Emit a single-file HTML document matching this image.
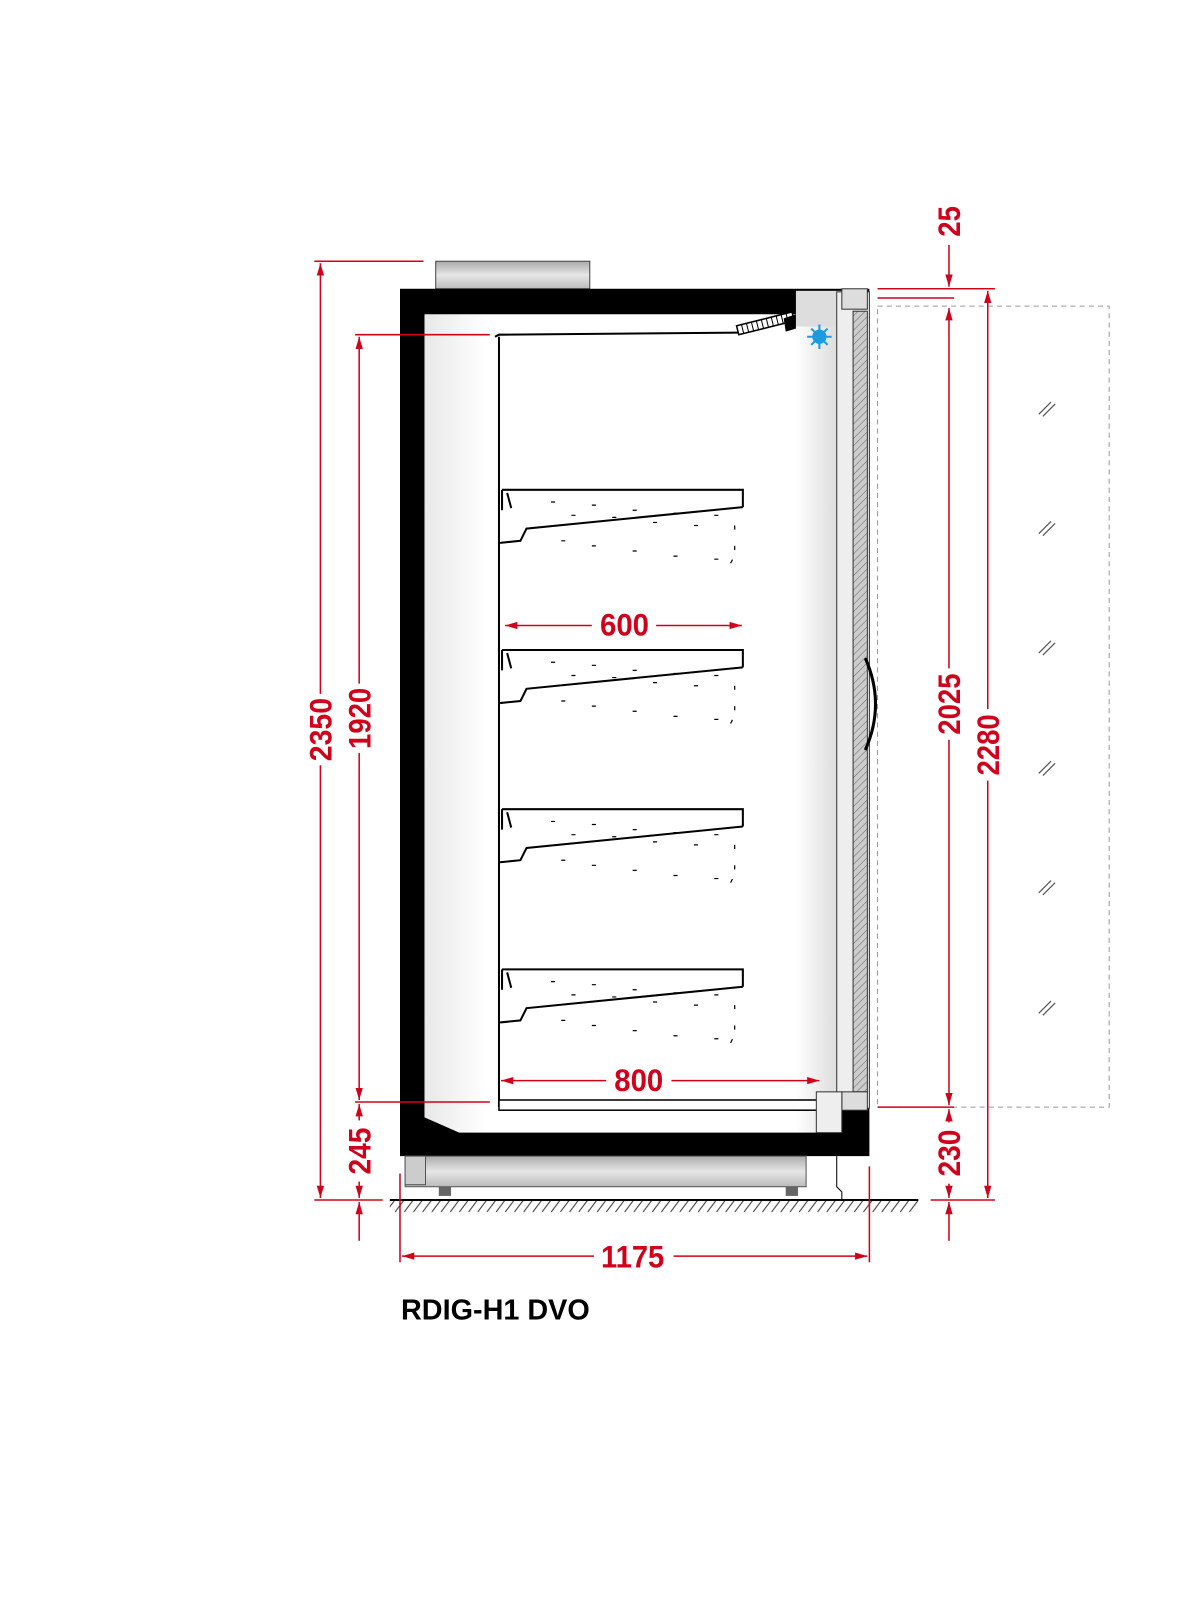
<!DOCTYPE html>
<html><head><meta charset="utf-8"><style>html,body{margin:0;padding:0;background:#fff}svg{display:block}</style></head>
<body>
<svg width="1200" height="1600" viewBox="0 0 1176 1568" xmlns="http://www.w3.org/2000/svg" font-family="Liberation Sans, sans-serif">
<defs>
<linearGradient id="g1" x1="0" y1="0" x2="0" y2="1"><stop offset="0" stop-color="#aaa"/><stop offset="0.5" stop-color="#e6e6e6"/><stop offset="1" stop-color="#bbb"/></linearGradient>
<linearGradient id="g2" x1="0" y1="0" x2="1" y2="0"><stop offset="0" stop-color="#e8e8e8"/><stop offset="0.15" stop-color="#fff"/><stop offset="0.9" stop-color="#fff"/><stop offset="1" stop-color="#ddd"/></linearGradient>
<pattern id="hat" width="5" height="5" patternUnits="userSpaceOnUse" patternTransform="rotate(45)"><rect width="5" height="5" fill="#ccc"/><line x1="0" y1="0" x2="0" y2="5" stroke="#666" stroke-width="1"/></pattern>
<pattern id="fl" width="9" height="12" patternUnits="userSpaceOnUse"><line x1="9" y1="0" x2="0" y2="12" stroke="#333" stroke-width="1"/></pattern>
<marker id="a" viewBox="0 0 10 10" refX="10" refY="5" markerWidth="8" markerHeight="8" orient="auto-start-reverse"><path d="M0,2 L10,5 L0,8z" fill="#d0021b"/></marker>
</defs>
<rect x="427" y="256" width="151" height="27" fill="url(#g1)" stroke="#444"/>
<rect x="392" y="283" width="460" height="850" fill="#000"/>
<path d="M416,308 L780,308 L780,320 L820,320 L820,1110 L450,1110 L416,1095 Z" fill="url(#g2)"/>
<rect x="780" y="285" width="48" height="35" fill="#ddd"/>
<path d="M485,330 L489,328 L725,326 M489,330 L489,1085" stroke="#000" stroke-width="2" fill="none"/>
<g transform="translate(724,328) rotate(-14)">
<rect x="0" y="-9" width="56" height="9" fill="#fff" stroke="#000" stroke-width="1.5"/>
<path d="M5,-9v9 M10,-9v9 M15,-9v9 M20,-9v9 M25,-9v9 M30,-9v9 M35,-9v9 M40,-9v9 M45,-9v9 M50,-9v9" stroke="#000"/>
</g>
<path d="M768,312 L780,308 L780,322 L770,325 Z" fill="#000"/>
<circle cx="803" cy="330" r="7" fill="#1a9be0"/>
<path d="M803,318 v24 M791,330 h24 M795,322 l16,16 M811,322 l-16,16" stroke="#1a9be0" stroke-width="2"/>
<g stroke="#000" fill="none">
<g id="sh"><path d="M492,480 L728,480 L728,497 M728,497 L516,518 L510,530 L490,532" stroke-width="2"/><path d="M492,480 v20 M497,483 l4,15" stroke-width="2"/>
<path d="M540,492 h5 M560,505 h5 M580,495 h5 M600,507 h5 M620,500 h5 M640,512 h5 M660,503 h5 M680,515 h5 M700,505 h5 M550,530 h5 M580,535 h5 M620,540 h5 M660,545 h5 M700,548 h5 M720,515 v5 M720,535 v5 M716,552 l4,-8" stroke-dasharray="4 8" stroke-width="1.2"/></g>
<use href="#sh" y="157"/><use href="#sh" y="313"/><use href="#sh" y="470"/>
<rect x="489" y="1078" width="316" height="10" fill="#fff" stroke-width="1.5"/>
</g>
<rect x="820" y="286" width="32" height="800" fill="#eee" stroke="#333"/>
<rect x="836" y="305" width="14" height="765" fill="url(#hat)" stroke="#333"/>
<rect x="825" y="283" width="25" height="20" fill="#ddd" stroke="#333"/>
<rect x="825" y="1070" width="25" height="18" fill="#ddd" stroke="#333"/>
<rect x="800" y="1070" width="25" height="40" fill="#eee" stroke="#333"/>
<path d="M848,645 Q868,690 848,735" stroke="#000" stroke-width="3" fill="none"/>
<rect x="397" y="1133" width="393" height="30" fill="url(#g1)" stroke="#555"/>
<rect x="397" y="1133" width="20" height="28" fill="#ccc" stroke="#555"/>
<rect x="430" y="1163" width="12" height="9" fill="#666"/><rect x="770" y="1163" width="12" height="9" fill="#666"/>
<path d="M820,1133 v30 l5,5 v8" stroke="#000" fill="none"/>
<rect x="382" y="1177" width="518" height="11" fill="url(#fl)"/>
<line x1="382" y1="1176" x2="900" y2="1176" stroke="#000" stroke-width="2"/>
<rect x="860" y="300" width="227" height="785" fill="none" stroke="#999" stroke-dasharray="5 4"/>
<g stroke="#555" stroke-width="1.2">
<g id="hh"><path d="M1018,406 l12,-12 M1022,408 l12,-12"/></g>
<use href="#hh" y="117"/><use href="#hh" y="234"/><use href="#hh" y="352"/><use href="#hh" y="469"/><use href="#hh" y="587"/>
</g>
<g stroke="#d0021b" stroke-width="1.5" fill="none">
<path d="M308,256 H415 M308,1176 H375 M348,328 H480 M348,1080 H480"/>
<line x1="314" y1="258" x2="314" y2="680" marker-start="url(#a)"/><line x1="314" y1="750" x2="314" y2="1174" marker-end="url(#a)"/>
<line x1="352" y1="330" x2="352" y2="670" marker-start="url(#a)"/><line x1="352" y1="738" x2="352" y2="1078" marker-end="url(#a)"/>
<line x1="352" y1="1082" x2="352" y2="1098" marker-start="url(#a)"/><line x1="352" y1="1158" x2="352" y2="1174" marker-end="url(#a)"/>
<line x1="352" y1="1216" x2="352" y2="1178" marker-end="url(#a)"/>
<path d="M860,283 H975 M860,292 H935 M860,1085 H935 M912,1176 H975"/>
<line x1="930" y1="240" x2="930" y2="281" marker-end="url(#a)"/>
<line x1="930" y1="302" x2="930" y2="655" marker-start="url(#a)"/><line x1="930" y1="725" x2="930" y2="1083" marker-end="url(#a)"/>
<line x1="930" y1="1087" x2="930" y2="1100" marker-start="url(#a)"/><line x1="930" y1="1160" x2="930" y2="1174" marker-end="url(#a)"/>
<line x1="930" y1="1216" x2="930" y2="1178" marker-end="url(#a)"/>
<line x1="968" y1="285" x2="968" y2="695" marker-start="url(#a)"/><line x1="968" y1="765" x2="968" y2="1174" marker-end="url(#a)"/>
<line x1="495" y1="613" x2="580" y2="613" marker-start="url(#a)"/><line x1="643" y1="613" x2="727" y2="613" marker-end="url(#a)"/>
<line x1="491" y1="1059" x2="594" y2="1059" marker-start="url(#a)"/><line x1="658" y1="1059" x2="803" y2="1059" marker-end="url(#a)"/>
<line x1="394" y1="1231" x2="582" y2="1231" marker-start="url(#a)"/><line x1="660" y1="1231" x2="850" y2="1231" marker-end="url(#a)"/>
<path d="M392,1150 V1237 M852,1143 V1237"/>
</g>
<g fill="#d0021b" font-size="31" font-weight="bold" text-anchor="middle">
<text x="612" y="623" textLength="48" lengthAdjust="spacingAndGlyphs">600</text>
<text x="626" y="1069" textLength="48" lengthAdjust="spacingAndGlyphs">800</text>
<text x="620" y="1242" textLength="62" lengthAdjust="spacingAndGlyphs">1175</text>
<text transform="translate(325,715) rotate(-90)" textLength="62" lengthAdjust="spacingAndGlyphs">2350</text>
<text transform="translate(363,704) rotate(-90)" textLength="60" lengthAdjust="spacingAndGlyphs">1920</text>
<text transform="translate(363,1128) rotate(-90)" textLength="46" lengthAdjust="spacingAndGlyphs">245</text>
<text transform="translate(941,217) rotate(-90)" textLength="30" lengthAdjust="spacingAndGlyphs">25</text>
<text transform="translate(941,690) rotate(-90)" textLength="60" lengthAdjust="spacingAndGlyphs">2025</text>
<text transform="translate(979,730) rotate(-90)" textLength="60" lengthAdjust="spacingAndGlyphs">2280</text>
<text transform="translate(941,1130) rotate(-90)" textLength="46" lengthAdjust="spacingAndGlyphs">230</text>
</g>
<text x="393" y="1293" font-size="28" font-weight="bold" fill="#000" textLength="185" lengthAdjust="spacingAndGlyphs">RDIG-H1 DVO</text>
</svg>
</body></html>
